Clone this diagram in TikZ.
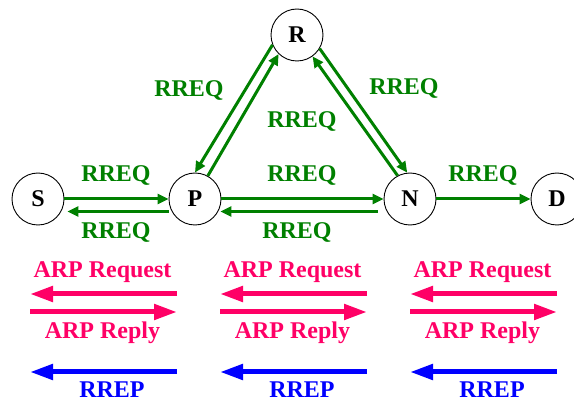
\documentclass[tikz,border=0pt]{standalone}
\usepackage{fontspec}
\setmainfont{Liberation Serif}
\usetikzlibrary{arrows.meta}
\definecolor{rgreen}{RGB}{0,128,0}
\definecolor{rred}{RGB}{255,0,102}
\definecolor{rblue}{RGB}{0,0,255}
\tikzset{
  host/.style={circle,draw=black,line width=0.9pt,minimum size=52pt,inner sep=0pt,
    font=\fontsize{24}{28}\selectfont\bfseries},
  lbl/.style={anchor=base,inner sep=0pt,font=\fontsize{24}{28}\selectfont\bfseries},
  glbl/.style={lbl,text=rgreen},
  rlbl/.style={lbl,text=rred},
  blbl/.style={lbl,text=rblue},
  garr/.style={draw=rgreen,line width=3pt,-{Triangle[length=11pt,width=10pt]}},
  rarr/.style={draw=rred,line width=5pt,-{Triangle[length=23pt,width=15pt]}},
  barr/.style={draw=rblue,line width=5pt,-{Triangle[length=23pt,width=15pt]}},
}
\begin{document}
\begin{tikzpicture}[x=1pt,y=-1pt]
\useasboundingbox (0,0) rectangle (574,401);
\clip (0,0) rectangle (574,401);
% hosts
\node[host] (S) at (38,199) {S};
\node[host] (P) at (195,199) {P};
\node[host] (R) at (297,35) {R};
\node[host] (N) at (410,199) {N};
\node[host] (D) at (557,199) {D};
% RREQ flooding
\draw[garr] (S.east) -- (P.west);
\draw[garr] ([yshift=-12.5pt]P.west) -- ([yshift=-12.5pt,xshift=3pt]S.east);
\draw[garr] (P.east) -- (N.west);
\draw[garr] ([yshift=-12.5pt,xshift=-6pt]N.west) -- ([yshift=-12.5pt,xshift=-1pt]P.east);
\draw[garr] (N.east) -- (D.west);
\draw[garr] (R.202) -- (P.90);
\draw[garr] (P.61) -- (R.226);
\draw[garr] (R.329) -- (N.96);
\draw[garr] (N.118) -- (R.306);
% RREQ labels
\node[glbl] (l1) at (116,182) {RREQ};
\node[glbl] (l2) at (116,239) {RREQ};
\node[glbl] (l3) at (302,182) {RREQ};
\node[glbl] (l4) at (297,239) {RREQ};
\node[glbl] (l5) at (483,182) {RREQ};
\node[glbl] (l6) at (189,97) {RREQ};
\node[glbl] (l7) at (302,128) {RREQ};
\node[glbl] (l8) at (404,95) {RREQ};
% ARP / RREP groups
\foreach \i/\x in {1/30,2/220,3/410}{
  \coordinate (qa\i) at (\x+147,294);
  \coordinate (qb\i) at (\x,294);
  \coordinate (pa\i) at (\x,312);
  \coordinate (pb\i) at (\x+147,312);
  \coordinate (ra\i) at (\x+147,372);
  \coordinate (rb\i) at (\x,372);
  \draw[rarr] (qa\i) -- (qb\i);
  \draw[rarr] (pa\i) -- (pb\i);
  \draw[barr] (ra\i) -- (rb\i);
  \node[rlbl] (req\i) at (\x+72.5,278) {ARP Request};
  \node[rlbl] (rep\i) at (\x+72.5,338) {ARP Reply};
  \node[blbl] (rr\i) at (\x+82,397) {RREP};
}
\end{tikzpicture}
\end{document}
